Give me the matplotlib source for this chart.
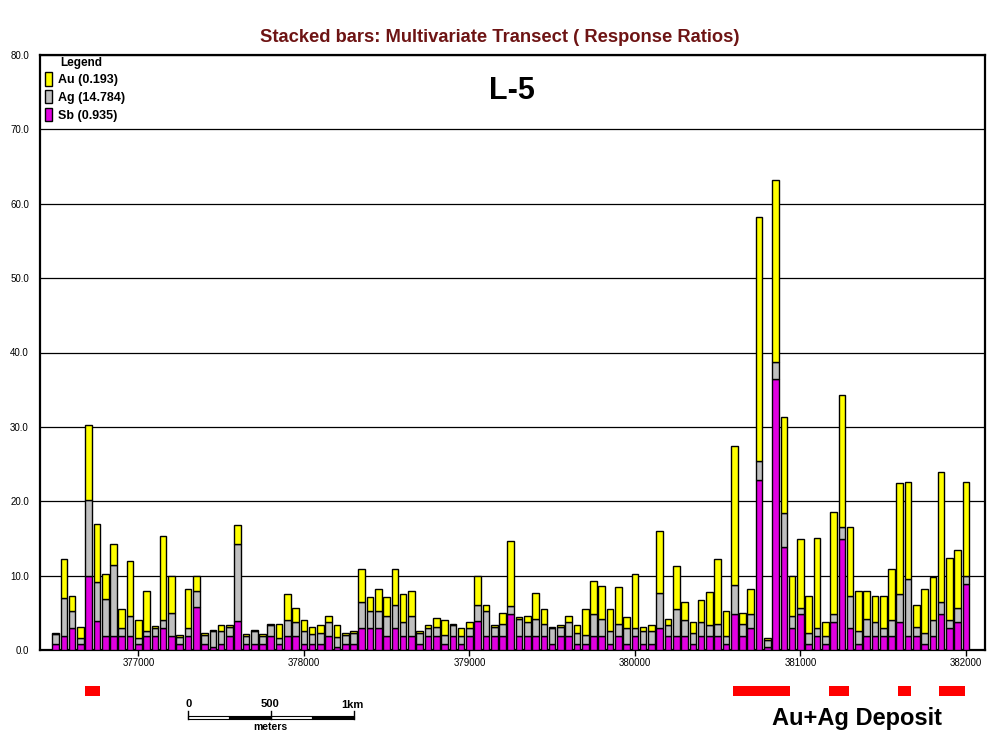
import matplotlib
matplotlib.use('Agg')
import matplotlib.pyplot as plt
from matplotlib.patches import Patch, Rectangle
from matplotlib.lines import Line2D
from matplotlib.transforms import blended_transform_factory
import numpy as np

plt.rcParams['font.family'] = ['Liberation Sans', 'DejaVu Sans']

# ---- data ----
eastings = np.arange(376500, 382001, 50)

sb = [0.8, 1.9, 2.9, 0.8, 10.0, 3.9, 1.9, 1.9, 1.9, 1.9, 0.8, 1.9, 1.9, 2.9, 1.9, 0.8, 1.9, 5.8, 0.8,
      0.4, 0.8, 1.9, 3.9, 0.8, 0.8, 0.8, 1.9, 0.8, 1.9, 1.9, 0.8, 0.8, 0.8, 1.9, 0.4, 0.8, 0.8, 2.9,
      2.9, 2.9, 1.9, 2.9, 1.9, 1.9, 0.8, 1.9, 1.9, 0.8, 1.9, 0.8, 1.9, 3.9, 1.9, 1.9, 1.9, 4.9, 1.9,
      1.9, 1.9, 1.9, 0.8, 1.9, 1.9, 0.8, 0.8, 1.9, 1.9, 0.8, 1.9, 0.8, 1.9, 0.8, 0.8, 2.9, 1.9, 1.9, 1.9,
      0.8, 1.9, 1.9, 1.9, 0.8, 4.9, 1.9, 2.9, 22.9, 0.4, 36.5, 13.9, 2.9, 4.9, 0.8, 1.9, 0.8, 3.8,
      14.9, 2.9, 0.8, 1.9, 1.9, 1.9, 1.9, 3.8, 1.9, 1.9, 0.8, 1.9, 4.9, 2.9, 3.8, 8.9]
ag = [1.3, 5.1, 2.4, 0.8, 10.2, 5.3, 4.9, 9.5, 1.1, 2.7, 0.8, 0.7, 1.1, 1.2, 3.1, 0.9, 1.0, 2.2, 1.2,
      2.1, 1.7, 1.2, 10.4, 1.1, 1.7, 1.1, 1.4, 0.8, 2.2, 1.8, 1.8, 1.4, 1.5, 1.8, 1.4, 1.2, 1.5, 3.6,
      2.3, 2.4, 2.7, 3.1, 1.8, 2.7, 1.5, 1.0, 1.2, 1.2, 1.4, 1.1, 1.0, 2.2, 3.3, 1.2, 1.6, 1.0, 2.3,
      1.8, 2.3, 1.6, 2.1, 1.2, 1.8, 1.5, 1.2, 3.0, 2.3, 1.8, 1.6, 2.1, 1.1, 1.8, 1.7, 4.7, 1.4, 3.6, 2.1,
      1.5, 1.9, 1.5, 1.6, 1.1, 3.8, 1.6, 1.9, 2.5, 1.0, 2.2, 4.5, 1.7, 0.7, 1.5, 1.1, 1.1, 1.1,
      1.7, 4.3, 1.8, 2.3, 1.9, 1.0, 2.2, 3.7, 7.6, 1.2, 1.5, 2.1, 1.6, 1.2, 1.9, 1.1]
au = [0.2, 5.3, 1.9, 1.5, 10.0, 7.8, 3.4, 2.8, 2.5, 7.3, 2.5, 5.3, 0.2, 11.2, 4.9, 0.3, 5.3, 1.9, 0.3,
      0.2, 0.9, 0.3, 2.5, 0.3, 0.2, 0.3, 0.2, 1.9, 3.4, 1.9, 1.5, 0.9, 1.0, 0.9, 1.5, 0.3, 0.3, 4.4,
      1.9, 2.9, 2.5, 4.9, 3.8, 3.4, 0.3, 0.5, 1.2, 2.0, 0.2, 1.0, 0.9, 3.8, 0.9, 0.3, 1.5, 8.7, 0.3,
      0.9, 3.4, 2.0, 0.2, 0.3, 0.9, 1.0, 3.5, 4.4, 4.4, 2.9, 5.0, 1.5, 7.2, 0.5, 0.9, 8.4, 0.9, 5.8, 2.4,
      1.5, 2.9, 4.4, 8.8, 3.4, 18.7, 1.5, 3.4, 32.8, 0.2, 24.5, 12.9, 5.3, 9.3, 4.9, 12.1, 1.9, 13.6,
      17.7, 9.3, 5.3, 3.8, 3.4, 4.3, 6.8, 15.0, 13.1, 2.9, 5.9, 5.8, 17.5, 8.3, 7.8, 12.6]

series_labels = ['Au (0.193)', 'Ag (14.784)', 'Sb (0.935)']
colors = {'Au': '#FFFF00', 'Ag': '#C0C0C0', 'Sb': '#E000E0'}

deposit_start = [376680, 380590, 381170, 381590, 381835]
deposit_end = [376770, 380935, 381295, 381665, 381995]

x_ticks = [377000, 378000, 379000, 380000, 381000, 382000]
y_ticks = [0, 10, 20, 30, 40, 50, 60, 70, 80]

# ---- figure ----
fig = plt.figure(figsize=(9.95, 7.5), dpi=100)
W, H = 995.0, 750.0
ax = fig.add_axes([40 / W, 100 / H, 945 / W, 595 / H])

sb_a = np.array(sb); ag_a = np.array(ag); au_a = np.array(au)
bw = 40
ax.bar(eastings, sb_a, width=bw, color=colors['Sb'], edgecolor='black', linewidth=1.0, zorder=3)
ax.bar(eastings, ag_a, width=bw, bottom=sb_a, color=colors['Ag'], edgecolor='black', linewidth=1.0, zorder=3)
ax.bar(eastings, au_a, width=bw, bottom=sb_a + ag_a, color=colors['Au'], edgecolor='black', linewidth=1.0, zorder=3)

ax.set_xlim(376406, 382115)
ax.set_ylim(0, 80)
ax.set_yticks(y_ticks)
ax.set_yticklabels([f"{v:.1f}" for v in y_ticks])
ax.set_xticks(x_ticks)
ax.set_xticklabels([str(v) for v in x_ticks])
ax.tick_params(axis='y', length=0, pad=8, labelsize=7)
ax.tick_params(axis='x', length=4, width=1, direction='out', pad=2, labelsize=7)
ax.yaxis.grid(True, color='black', linewidth=0.9, zorder=0)
ax.set_axisbelow(True)
for s in ax.spines.values():
    s.set_linewidth(1.6)
    s.set_color('black')

# legend
handles = [Patch(facecolor=colors['Au'], edgecolor='black', linewidth=1.0, label=series_labels[0]),
           Patch(facecolor=colors['Ag'], edgecolor='black', linewidth=1.0, label=series_labels[1]),
           Patch(facecolor=colors['Sb'], edgecolor='black', linewidth=1.0, label=series_labels[2])]
leg = ax.legend(handles=handles, loc='upper left', bbox_to_anchor=(45 / W, 1 - 72 / H),
                bbox_transform=fig.transFigure, frameon=False,
                prop={'weight': 'bold', 'size': 9}, handlelength=0.55, handleheight=1.3,
                handletextpad=0.5, labelspacing=0.3, borderpad=0, borderaxespad=0)
fig.text(60 / W, 1 - 63 / H, 'Legend', fontsize=8.5, weight='bold', ha='left', va='center')

# titles
fig.text(500 / W, 1 - 38 / H, 'Stacked bars: Multivariate Transect ( Response Ratios)',
         fontsize=13.2, weight='bold', color='#6E1414', ha='center', va='center')
fig.text(512 / W, 1 - 91 / H, 'L-5', fontsize=22, weight='bold', ha='center', va='center')

# deposit markers
tr = blended_transform_factory(ax.transData, fig.transFigure)
for s, e in zip(deposit_start, deposit_end):
    ax.add_patch(Rectangle((s, 1 - 696 / H), e - s, 10 / H, transform=tr,
                           facecolor='#FF0000', edgecolor='none', clip_on=False))
fig.text(857 / W, 1 - 719 / H, 'Au+Ag Deposit', fontsize=17, weight='bold', ha='center', va='center')

# scale bar
sb0 = 377300
for i in range(4):
    fc = 'white' if i % 2 == 0 else 'black'
    ax.add_patch(Rectangle((sb0 + i * 250, 1 - 719 / H), 250, 3 / H, transform=tr,
                           facecolor=fc, edgecolor='black', linewidth=0.8, clip_on=False))
for xv in [sb0, sb0 + 500, sb0 + 1000]:
    ax.add_line(Line2D([xv, xv], [1 - 719 / H, 1 - 711 / H], transform=tr, color='black',
                       linewidth=1.0, clip_on=False))
fig.text(189 / W, 1 - 704 / H, '0', fontsize=8, weight='bold', ha='center', va='center')
fig.text(270 / W, 1 - 704 / H, '500', fontsize=8, weight='bold', ha='center', va='center')
fig.text(352 / W, 1 - 705 / H, '1km', fontsize=8, weight='bold', ha='center', va='center')
fig.text(270 / W, 1 - 727 / H, 'meters', fontsize=7.5, weight='bold', ha='center', va='center')

fig.savefig('out.png', dpi=100, facecolor='white')
